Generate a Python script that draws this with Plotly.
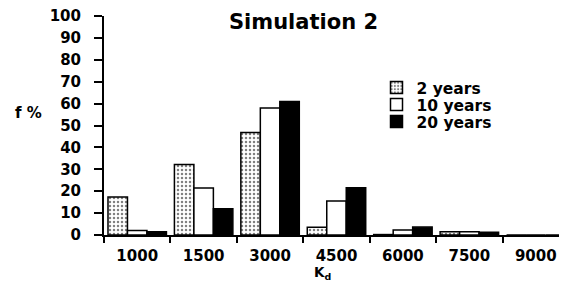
import plotly.graph_objects as go

categories = ["1000", "1500", "3000", "4500", "6000", "7500", "9000"]
series_names = ["2 years", "10 years", "20 years"]
y2 = [17.3, 32.2, 46.8, 3.5, 0.2, 1.5, 0]
y10 = [2.0, 21.5, 58.0, 15.5, 2.3, 1.5, 0]
y20 = [1.5, 12.0, 61.0, 21.6, 3.6, 1.3, 0]
y_ticks = [0, 10, 20, 30, 40, 50, 60, 70, 80, 90, 100]

FONT = "DejaVu Sans, Arial, sans-serif"

# page body has an 8px margin: figure is placed at (8, 8) in the window
OFF = 8
W, H = 567 - OFF, 281 - OFF
PL, PT, PR, PB = 104, 16, 567, 235          # plot area in window pixels
pw, ph = PR - PL, PB - PT


def px(xw):
    return (xw - PL) / pw


def py(yw):
    return (PB - yw) / ph


fig = go.Figure()
fig.add_trace(go.Bar(
    x=categories, y=y2, name=series_names[0], legend="legend",
    marker=dict(color="white", line=dict(color="black", width=1.5),
                pattern=dict(shape=".", fgcolor="black", bgcolor="white", size=4, solidity=0.3)),
))
fig.add_trace(go.Bar(
    x=categories, y=y10, name=series_names[1], legend="legend2",
    marker=dict(color="white", line=dict(color="black", width=1.5)),
))
fig.add_trace(go.Bar(
    x=categories, y=y20, name=series_names[2], legend="legend3",
    marker=dict(color="black", line=dict(color="black", width=1.5)),
))

legfont = dict(family=FONT, size=15.5, color="black", weight="bold")
leg_common = dict(xanchor="left", yanchor="middle", font=legfont,
                  bgcolor="rgba(0,0,0,0)", itemwidth=30, x=px(376.5))

tickfont = dict(family=FONT, size=15, color="black", weight="bold")

fig.update_layout(
    width=W, height=H,
    margin=dict(l=PL - OFF, r=0, t=PT - OFF, b=H - (PB - OFF)),
    paper_bgcolor="white", plot_bgcolor="white",
    barmode="group", bargap=0.12, bargroupgap=0,
    font=dict(family=FONT, size=15, color="black", weight="bold"),
    title=dict(text="Simulation 2", x=(303.5 - OFF) / W, xanchor="center",
               y=1 - (22 - OFF) / H, yanchor="middle",
               font=dict(family=FONT, size=21, color="black", weight="bold")),
    showlegend=True,
    legend=dict(y=py(88), **leg_common),
    legend2=dict(y=py(105), **leg_common),
    legend3=dict(y=py(122), **leg_common),
    xaxis=dict(
        type="category", range=[-0.5, 6.47],
        showline=True, linecolor="black", linewidth=2,
        ticks="outside", tickson="boundaries", ticklen=6, tickwidth=2, tickcolor="black",
        showgrid=False, zeroline=False, automargin=False,
        tickfont=tickfont, ticklabelstandoff=6, ticklabeloverflow="allow",
    ),
    yaxis=dict(
        range=[0, 100], tickvals=y_ticks,
        showline=True, linecolor="black", linewidth=2,
        ticks="outside", ticklen=8, tickwidth=2, tickcolor="black",
        showgrid=False, zeroline=False, automargin=False,
        tickfont=tickfont, ticklabelstandoff=10, ticklabeloverflow="allow",
    ),
    annotations=[
        dict(text="f %", x=px(28), y=py(113), xref="paper", yref="paper",
             xanchor="center", yanchor="middle", showarrow=False, font=tickfont),
        dict(text="K<sub>d</sub>", x=px(322), y=py(272.5), xref="paper", yref="paper",
             xanchor="center", yanchor="middle", showarrow=False,
             font=dict(family=FONT, size=13.5, color="black", weight="bold")),
    ],
)

fig.write_html("out.html")
